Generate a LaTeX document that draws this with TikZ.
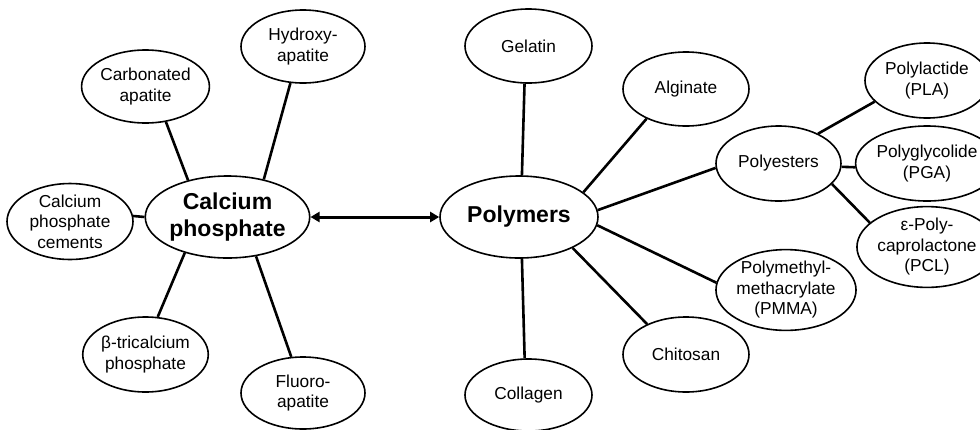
\documentclass[tikz,border=0pt]{standalone}
\usepackage{fontspec}
\setmainfont{Liberation Sans}
\usetikzlibrary{shapes.geometric,arrows.meta}
\tikzset{
  bub/.style 2 args={ellipse, draw, line width=1.6pt, inner sep=0pt,
    minimum width=#1, minimum height=#2, align=center,
    font=\fontsize{17.3}{20.5}\selectfont},
  hub/.style 2 args={bub={#1}{#2}, font=\fontsize{23}{26.5}\selectfont\bfseries},
  conn/.style={line width=2.6pt},
  arr/.style={line width=3pt, {Triangle[length=9pt,width=10pt]}-{Triangle[length=9pt,width=10pt]}}
}
\begin{document}
\begin{tikzpicture}[x=1pt,y=-1pt]
\path[use as bounding box] (0,0) rectangle (980,429);
\clip (0,0) rectangle (980,429);
% left cluster
\node[hub={159pt}{82pt}] (cap) at (227.5,217) {Calcium\\phosphate};
\node[bub={125pt}{73pt}] (carb) at (145.5,86.5) {Carbonated\\apatite};
\node[bub={124pt}{73pt}] (hyd) at (303,46.5) {Hydroxy-\\apatite};
\node[bub={126pt}{73pt}] (cem) at (70,221.5) {Calcium\\phosphate\\cements};
\node[bub={125pt}{75pt}] (tcp) at (145.5,354.5) {β-tricalcium\\phosphate};
\node[bub={124pt}{72pt}] (flu) at (303,393) {Fluoro-\\apatite};
% right cluster
\node[hub={158pt}{82pt}] (poly) at (519,217) {Polymers};
\node[bub={127pt}{74pt}] (gel) at (528.5,46) {Gelatin};
\node[bub={127pt}{72pt}] (col) at (528.5,395) {Collagen};
\node[bub={126pt}{74pt}] (alg) at (686,89) {Alginate};
\node[bub={126pt}{75pt}] (chi) at (686,354.5) {Chitosan};
\node[bub={125pt}{75pt}] (pes) at (778.5,163.5) {Polyesters};
\node[bub={126pt}{80pt}] (pmma) at (786,290) {Polymethyl-\\methacrylate\\(PMMA)};
\node[bub={124pt}{75pt}] (pla) at (927,80.5) {Polylactide\\(PLA)};
\node[bub={124pt}{75pt}] (pga) at (927,163.5) {Polyglycolide\\(PGA)};
\node[bub={124pt}{74pt}] (pcl) at (927,247) {ε-Poly-\\caprolactone\\(PCL)};
% connectors
\draw[conn] (carb.-60) -- (cap.137);
\draw[conn] (hyd.251) -- (cap.46);
\draw[conn] (cem.5) -- (cap.west);
\draw[conn] (tcp.72) -- (cap.220);
\draw[conn] (flu.108) -- (cap.-54);
\draw[arr] (cap.east) -- (poly.west);
\draw[conn] (gel.264) -- (poly.86);
\draw[conn] (col.96) -- (poly.274);
\draw[conn] (alg.217) -- (poly.21);
\draw[conn] (pes.184) -- (poly.5);
\draw[conn] (pmma.174) -- (poly.-6);
\draw[conn] (chi.142) -- (poly.-30);
\draw[conn] (pes.37) -- (pla.202);
\draw[conn] (pes.-3) -- (pga.183);
\draw[conn] (pes.-21) -- (pcl.157);
\end{tikzpicture}
\end{document}
